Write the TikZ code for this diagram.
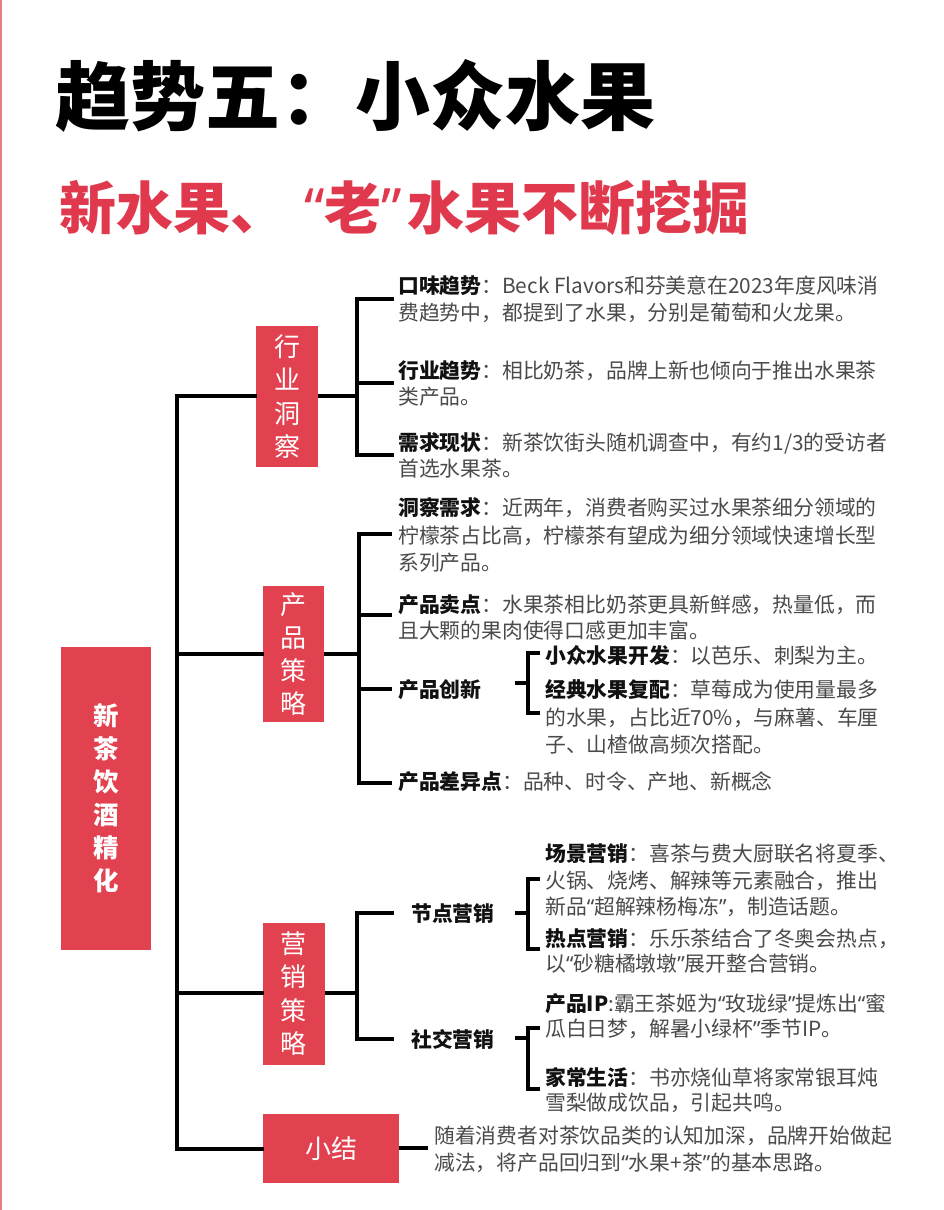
\documentclass[tikz,border=0pt]{standalone}
\usepackage{fontspec}
\setmainfont{Noto Sans CJK SC}
\newfontfamily\qfont{Noto Sans}
\definecolor{boxred}{HTML}{E2424F}
\definecolor{subred}{HTML}{E0394D}
\definecolor{txtgray}{HTML}{4A4A4A}
\definecolor{labblack}{HTML}{111111}
\newcommand\lab[1]{{\bfseries\color{labblack}#1}}
\newcommand\qo{{\qfont “}}
\newcommand\qc{{\qfont ”}}
\begin{document}
\begin{tikzpicture}[x=1pt,y=-1pt,
  redbox/.style={fill=boxred,draw=none,inner sep=0pt,text=white,align=center},
  txt/.style={anchor=base west,inner sep=0pt,text=txtgray,font=\fontsize{20.8}{27}\selectfont},
  labnode/.style={anchor=base west,inner sep=0pt,text=labblack,font=\fontsize{20.8}{27}\selectfont\bfseries},
  conn/.style={draw=black,line width=3.2pt,line join=miter,line cap=rect},
  stub/.style={draw=black,line width=4.2pt,line cap=butt}
]
\useasboundingbox (0,0) rectangle (944,1210);
\fill[white] (0,0) rectangle (944,1210);
\fill[boxred!70] (0,0) rectangle (2.2,1210);

% titles
\node[anchor=base west,inner sep=0pt,font=\fontsize{75}{75}\selectfont\bfseries,text=black] (title) at (55,124) {趋势五：小众水果};
\node[anchor=base west,inner sep=0pt,font=\fontsize{57}{57}\selectfont\bfseries,text=subred] (subtitle) at (59,229) {新水果、\hspace{17pt}\qo 老\qc\hspace{5pt}水果不断挖掘};

% boxes
\node[redbox,minimum width=90pt,minimum height=303pt,font=\fontsize{25.5}{33}\selectfont\bfseries] (ctr) at (106,798.5) {新\\茶\\饮\\酒\\精\\化};
\node[redbox,minimum width=62pt,minimum height=141pt,font=\fontsize{26}{33.3}\selectfont] (hy) at (287,396.5) {行\\业\\洞\\察};
\node[redbox,minimum width=61pt,minimum height=136pt,font=\fontsize{26}{33.3}\selectfont] (cp) at (293.5,654) {产\\品\\策\\略};
\node[redbox,minimum width=62pt,minimum height=142pt,font=\fontsize{26}{33.3}\selectfont] (yx) at (293.5,993.5) {营\\销\\策\\略};
\node[redbox,minimum width=136pt,minimum height=69pt,font=\fontsize{26}{30}\selectfont] (xj) at (331,1148.5) {小结};

% trunk
\coordinate (t1) at (177,396);
\coordinate (t2) at (177,654);
\coordinate (t3) at (177,993);
\coordinate (t4) at (177,1149);
\draw[conn] (hy.west |- t1) -- (t1) -- (t4) -- (t4 -| xj.west);
\draw[conn] (t2) -- (t2 -| cp.west);
\draw[conn] (t3) -- (t3 -| yx.west);

% bracket 1
\coordinate (b1) at (357,396);
\coordinate (b1a) at (357,299);
\coordinate (b1b) at (357,383);
\coordinate (b1c) at (357,455);
\draw[stub] (hy.east |- b1) -- (b1);
\draw[conn] (392,299) -- (b1a) -- (b1c) -- (392,455);
\draw[conn] (b1b) -- (392,383);

% bracket 2
\coordinate (b2) at (359,654);
\coordinate (b2a) at (359,534);
\coordinate (b2b) at (359,615);
\coordinate (b2c) at (359,689);
\coordinate (b2d) at (359,783);
\draw[stub] (cp.east |- b2) -- (b2);
\draw[conn] (390,534) -- (b2a) -- (b2d) -- (390,783);
\draw[conn] (b2b) -- (390,615);
\draw[conn] (b2c) -- (390,689);

% sub bracket 产品创新
\coordinate (s1) at (528,683);
\coordinate (s1a) at (528,653);
\coordinate (s1b) at (528,713);
\draw[stub] (515,683) -- (s1);
\draw[conn] (538,653) -- (s1a) -- (s1b) -- (538,713);

% bracket 3
\coordinate (b3) at (357,993);
\coordinate (b3a) at (357,913);
\coordinate (b3b) at (357,1039);
\draw[stub] (yx.east |- b3) -- (b3);
\draw[conn] (392,913) -- (b3a) -- (b3b) -- (392,1039);

% sub bracket 节点营销
\coordinate (s2) at (528,913);
\coordinate (s2a) at (528,879);
\coordinate (s2b) at (528,949);
\draw[stub] (515,913) -- (s2);
\draw[conn] (538,879) -- (s2a) -- (s2b) -- (538,949);

% sub bracket 社交营销
\coordinate (s3) at (528,1038);
\coordinate (s3a) at (528,1028);
\coordinate (s3b) at (528,1089);
\draw[stub] (515,1038) -- (s3);
\draw[conn] (538,1028) -- (s3a) -- (s3b) -- (538,1089);

% 小结 stub
\coordinate (xjend) at (428,1148);
\draw[stub] (xj.east |- xjend) -- (xjend);

% texts: 行业洞察
\node[txt] (a1) at (398,293) {\lab{口味趋势}：Beck Flavors和芬美意在2023年度风味消};
\node[txt] (a1b) at (398,320) {费趋势中，都提到了水果，分别是葡萄和火龙果。};
\node[txt] (a2) at (398,378) {\lab{行业趋势}：相比奶茶，品牌上新也倾向于推出水果茶};
\node[txt] (a2b) at (398,404) {类产品。};
\node[txt] (a3) at (398,450) {\lab{需求现状}：新茶饮街头随机调查中，有约1/3的受访者};
\node[txt] (a3b) at (398,476) {首选水果茶。};

% 产品策略
\node[txt] (p1) at (398,515) {\lab{洞察需求}：近两年，消费者购买过水果茶细分领域的};
\node[txt] (p1b) at (398,543) {柠檬茶占比高，柠檬茶有望成为细分领域快速增长型};
\node[txt] (p1c) at (398,570) {系列产品。};
\node[txt] (p2) at (398,612) {\lab{产品卖点}：水果茶相比奶茶更具新鲜感，热量低，而};
\node[txt] (p2b) at (398,638) {且大颗的果肉使得口感更加丰富。};
\node[labnode] (p3) at (398,697) {产品创新};
\node[txt] (p3a) at (545,663) {\lab{小众水果开发}：以芭乐、刺梨为主。};
\node[txt] (p3b) at (545,697) {\lab{经典水果复配}：草莓成为使用量最多};
\node[txt] (p3c) at (545,725) {的水果，占比近70\%，与麻薯、车厘};
\node[txt] (p3d) at (545,752) {子、山楂做高频次搭配。};
\node[txt] (p4) at (398,789) {\lab{产品差异点}：品种、时令、产地、新概念};

% 营销策略
\node[labnode] (m1) at (411,921) {节点营销};
\node[txt] (m1a) at (545,861) {\lab{场景营销}：喜茶与费大厨联名将夏季、};
\node[txt] (m1b) at (545,888) {火锅、烧烤、解辣等元素融合，推出};
\node[txt] (m1c) at (545,914) {新品\qo 超解辣杨梅冻\qc ，制造话题。};
\node[txt] (m1d) at (545,946) {\lab{热点营销}：乐乐茶结合了冬奥会热点，};
\node[txt] (m1e) at (545,971) {以\qo 砂糖橘墩墩\qc 展开整合营销。};
\node[labnode] (m2) at (411,1047) {社交营销};
\node[txt] (m2a) at (545,1011) {\lab{产品IP}:霸王茶姬为\qo 玫珑绿\qc 提炼出\qo 蜜};
\node[txt] (m2b) at (545,1036) {瓜白日梦，解暑小绿杯\qc 季节IP。};
\node[txt] (m2c) at (545,1085) {\lab{家常生活}：书亦烧仙草将家常银耳炖};
\node[txt] (m2d) at (545,1110) {雪梨做成饮品，引起共鸣。};

% 小结
\node[txt] (x1) at (434,1143) {随着消费者对茶饮品类的认知加深，品牌开始做起};
\node[txt] (x2) at (434,1170) {减法，将产品回归到\qo 水果+茶\qc 的基本思路。};
\end{tikzpicture}
\end{document}
